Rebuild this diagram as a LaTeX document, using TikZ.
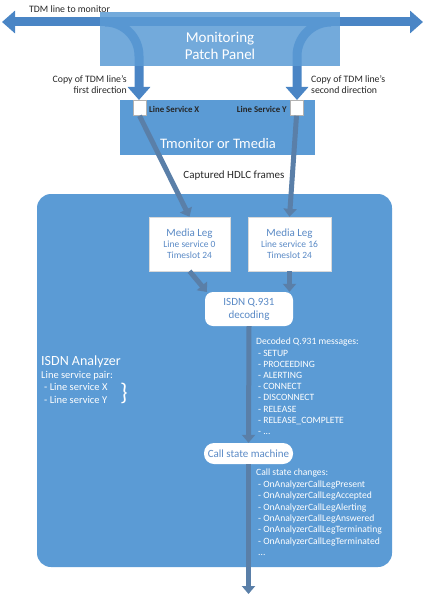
\documentclass[tikz,border=0pt]{standalone}
\usepackage{fontspec}
\setmainfont{Carlito}
\usetikzlibrary{arrows.meta}
\definecolor{boxblue}{HTML}{5B9BD5}
\definecolor{tdmblue}{HTML}{4A85C5}
\definecolor{feedgray}{HTML}{5A7FA8}
\definecolor{txtblue}{HTML}{5A8AC6}
\definecolor{darktxt}{HTML}{262626}
\tikzset{
  tdm/.style={draw=tdmblue,line width=9pt},
  tdmhead/.style={-{Triangle[width=22pt,length=13pt]}},
  feed/.style={draw=feedgray,line width=5pt,-{Triangle[width=13pt,length=8pt]}},
  panel/.style={fill=boxblue,fill opacity=0.85,draw=none,minimum width=240pt,minimum height=54pt},
  bluebox/.style={fill=boxblue,draw=none},
  sq/.style={fill=white,draw=gray!60,line width=0.6pt,minimum width=13pt,minimum height=15pt,inner sep=0pt},
  lslabel/.style={font=\fontsize{8.8}{10}\selectfont\bfseries,text=darktxt,inner sep=0pt},
  outtxt/.style={font=\fontsize{9.8}{11}\selectfont,text=darktxt,inner sep=0pt},
  wtxt/.style={font=\fontsize{9.6}{11.2}\selectfont,text=white,inner sep=0pt,align=left},
  legbox/.style={fill=white,draw=gray!30,line width=0.4pt,inner sep=0pt,align=center,text=txtblue},
  roundbox/.style={fill=white,draw=none,inner sep=0pt,align=center,text=txtblue,font=\fontsize{11}{13}\selectfont}
}
\begin{document}
\begin{tikzpicture}[x=1pt,y=-1pt]
\useasboundingbox (0,0) rectangle (425,599);
% TDM line
\coordinate (tl) at (2,22);
\coordinate (tr) at (423,22);
\draw[tdm,{Triangle[width=22pt,length=13pt]}-{Triangle[width=22pt,length=13pt]}] (tl) -- (tr);
% copies
\coordinate (c1a) at (105,22);
\coordinate (c1b) at (139,56);
\coordinate (c1c) at (139,100);
\coordinate (c2a) at (331,22);
\coordinate (c2b) at (297,56);
\coordinate (c2c) at (297,100);
\draw[tdm,tdmhead] (c1a) to[out=0,in=90] (c1b) -- (c1c);
\draw[tdm,tdmhead] (c2a) to[out=180,in=90] (c2b) -- (c2c);
% patch panel
\node[panel] (pp) at (220,39) {};
\node[text=white,align=center,font=\fontsize{15}{16.5}\selectfont,inner sep=0pt] (ppt) at (220,46) {Monitoring\\Patch Panel};
\node[outtxt,anchor=west] (tdml) at (29,9) {TDM line to monitor};
\node[outtxt,anchor=east,align=right] (cp1) at (127,84.5) {Copy of TDM line’s\\first direction};
\node[outtxt,anchor=west,align=left] (cp2) at (311,84.5) {Copy of TDM line’s\\second direction};
% Tmonitor
\node[bluebox,minimum width=195pt,minimum height=55pt] (tm) at (217.5,127.5) {};
\node[text=white,font=\fontsize{14.5}{16}\selectfont,inner sep=0pt] (tmt) at (218,144) {Tmonitor or Tmedia};
\node[sq] (sx) at (139.5,108) {};
\node[sq] (sy) at (296.5,108) {};
\node[lslabel,anchor=west] (lx) at (149,109) {Line Service X};
\node[lslabel,anchor=east] (ly) at (287,109) {Line Service Y};
\node[outtxt,font=\fontsize{11}{12}\selectfont] (hdlc) at (234,176) {Captured HDLC frames};
% analyzer
\node[bluebox,rounded corners=14pt,minimum width=355pt,minimum height=373pt] (an) at (214.5,380.5) {};
% media legs
\node[legbox,minimum width=81pt,minimum height=54pt] (ml0) at (189.5,244)
  {{\fontsize{11}{13}\selectfont Media Leg}\\[-1pt]{\fontsize{9.5}{11}\selectfont Line service 0}\\[-1pt]{\fontsize{9.5}{11}\selectfont Timeslot 24}};
\node[legbox,minimum width=83pt,minimum height=54pt] (ml16) at (289.5,244)
  {{\fontsize{11}{13}\selectfont Media Leg}\\[-1pt]{\fontsize{9.5}{11}\selectfont Line service 16}\\[-1pt]{\fontsize{9.5}{11}\selectfont Timeslot 24}};
\draw[feed] (sx.south) -- (ml0.north);
\draw[feed] (sy.south) -- (ml16.north);
% decoding
\node[roundbox,rounded corners=8pt,minimum width=88pt,minimum height=34pt] (dec) at (249,309) {ISDN Q.931\\decoding};
\coordinate (decin) at (207,292);
\draw[feed] (ml0.south) -- (decin);
\draw[feed] (ml16.south) -- (ml16.south |- dec.north);
% call state machine
\node[roundbox,rounded corners=10pt,minimum width=89pt,minimum height=21pt] (csm) at (248.5,453.5) {Call state machine};
\coordinate (outend) at (248.5,594);
\draw[feed] (dec.south) -- (csm.north);
\draw[feed] (csm.south) -- (outend);
% texts
\node[wtxt,anchor=north west] (msgs) at (256,338) {Decoded Q.931 messages:\\
\hspace{2pt}- SETUP\\
\hspace{2pt}- PROCEEDING\\
\hspace{2pt}- ALERTING\\
\hspace{2pt}- CONNECT\\
\hspace{2pt}- DISCONNECT\\
\hspace{2pt}- RELEASE\\
\hspace{2pt}- RELEASE\_COMPLETE\\
\hspace{2pt}- ...};
\node[wtxt,anchor=north west,font=\fontsize{9.6}{11.4}\selectfont] (chg) at (256,469) {Call state changes:\\
\hspace{2pt}- OnAnalyzerCallLegPresent\\
\hspace{2pt}- OnAnalyzerCallLegAccepted\\
\hspace{2pt}- OnAnalyzerCallLegAlerting\\
\hspace{2pt}- OnAnalyzerCallLegAnswered\\
\hspace{2pt}- OnAnalyzerCallLegTerminating\\
\hspace{2pt}- OnAnalyzerCallLegTerminated\\
\hspace{2pt}...};
\node[text=white,font=\fontsize{14}{15}\selectfont,inner sep=0pt,anchor=west] (ant) at (41,362) {ISDN Analyzer};
\node[wtxt,anchor=north west,font=\fontsize{10.5}{12.5}\selectfont] (pair) at (41,371) {Line service pair:\\
\hspace{3pt}- Line service X\\
\hspace{3pt}- Line service Y};
\node[text=white,font=\fontsize{24}{24}\selectfont,inner sep=0pt] (brace) at (124,393) {\}};
\end{tikzpicture}
\end{document}
